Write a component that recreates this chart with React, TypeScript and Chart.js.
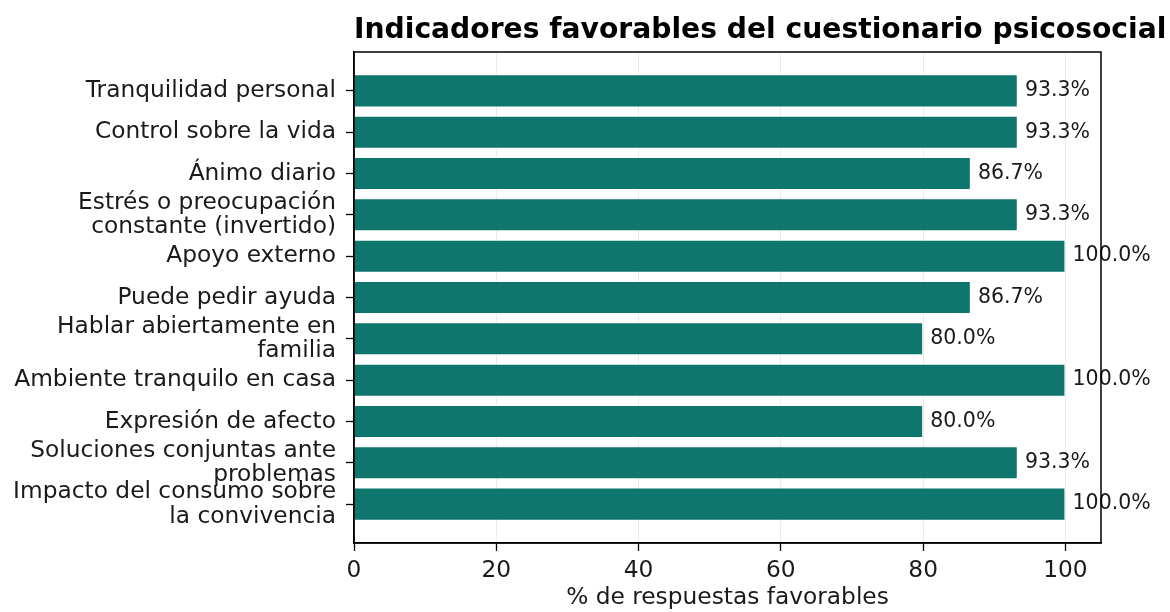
import React, { useEffect, useRef } from "react";
import { Chart, registerables } from "chart.js";

Chart.register(...registerables);

const TITLE = "Indicadores favorables del cuestionario psicosocial";
const X_LABEL = "% de respuestas favorables";
const CATEGORIES = [
  "Tranquilidad personal",
  "Control sobre la vida",
  "Ánimo diario",
  "Estrés o preocupación\nconstante (invertido)",
  "Apoyo externo",
  "Puede pedir ayuda",
  "Hablar abiertamente en\nfamilia",
  "Ambiente tranquilo en casa",
  "Expresión de afecto",
  "Soluciones conjuntas ante\nproblemas",
  "Impacto del consumo sobre\nla convivencia",
];
const VALUES = [93.3, 93.3, 86.7, 93.3, 100.0, 86.7, 80.0, 100.0, 80.0, 93.3, 100.0];
const X_TICKS = [0, 20, 40, 60, 80, 100];

const FONT = "'DejaVu Sans', 'Liberation Sans', sans-serif";
const BAR_COLOR = "#0f766e";
const TEXT_COLOR = "#1a1a1a";

export default function App() {
  const ref = useRef<HTMLCanvasElement>(null);

  useEffect(() => {
    document.body.style.margin = "0";
    const canvas = ref.current;
    if (!canvas) return;

    const overlay = {
      id: "overlay",
      afterDatasetsDraw(chart: any) {
        const ctx = chart.ctx;
        const xs = chart.scales.x;
        const meta = chart.getDatasetMeta(0);
        ctx.save();
        ctx.font = `20.5px ${FONT}`;
        ctx.fillStyle = TEXT_COLOR;
        ctx.textAlign = "left";
        ctx.textBaseline = "middle";
        meta.data.forEach((bar: any, i: number) => {
          const v = VALUES[i];
          ctx.fillText(`${v.toFixed(1)}%`, xs.getPixelForValue(v + 1), bar.y);
        });
        ctx.restore();
      },
      afterDraw(chart: any) {
        const ctx = chart.ctx;
        const a = chart.chartArea;
        ctx.save();
        ctx.strokeStyle = "#000";
        ctx.lineWidth = 1.5;
        ctx.strokeRect(a.left, a.top, a.right - a.left, a.bottom - a.top);
        ctx.font = `bold 28.2px ${FONT}`;
        ctx.fillStyle = "#000";
        ctx.textAlign = "left";
        ctx.textBaseline = "alphabetic";
        ctx.fillText(TITLE, a.left, 38);
        ctx.restore();
      },
    };

    const chart = new Chart(canvas, {
      type: "bar",
      data: {
        datasets: [
          {
            data: VALUES.map((v, i) => ({ x: v, y: i })),
            backgroundColor: BAR_COLOR,
            borderColor: "rgba(255,255,255,0.55)",
            borderWidth: 1,
            barPercentage: 0.8,
            categoryPercentage: 1,
          },
        ],
      },
      options: {
        indexAxis: "y",
        animation: false,
        responsive: false,
        layout: { padding: { top: 52, right: 69, left: 0, bottom: 0 } },
        plugins: {
          legend: { display: false },
          tooltip: { enabled: false },
        },
        scales: {
          x: {
            type: "linear",
            min: 0,
            max: 105,
            afterBuildTicks: (s: any) => {
              s.ticks = X_TICKS.map((v) => ({ value: v }));
            },
            afterFit: (s: any) => {
              s.height = 69;
            },
            grid: {
              color: "#ebebeb",
              lineWidth: 1,
              drawTicks: true,
              tickLength: 8,
              tickColor: "#000",
              tickWidth: 1.3,
            },
            border: { display: true, color: "#000", width: 1.5 },
            ticks: {
              color: TEXT_COLOR,
              font: { family: FONT, size: 23.3 },
              padding: 6,
              maxRotation: 0,
            },
            title: {
              display: true,
              text: X_LABEL,
              color: TEXT_COLOR,
              font: { family: FONT, size: 23.3 },
              padding: { top: 0, bottom: 0 },
            },
          },
          y: {
            type: "linear",
            reverse: true,
            offset: false,
            min: -0.94,
            max: 10.94,
            afterBuildTicks: (s: any) => {
              s.ticks = CATEGORIES.map((_, i) => ({ value: i }));
            },
            afterFit: (s: any) => {
              s.width = 354;
            },
            grid: {
              offset: false,
              drawOnChartArea: false,
              drawTicks: true,
              tickLength: 8,
              tickColor: "#000",
              tickWidth: 1.3,
            },
            border: { display: true, color: "#000", width: 1.5 },
            ticks: {
              color: TEXT_COLOR,
              font: { family: FONT, size: 23.3, lineHeight: 1.06 },
              padding: 10,
              autoSkip: false,
              callback: (value: any) => {
                const label = CATEGORIES[Math.round(Number(value))];
                return label ? label.split("\n") : "";
              },
            },
          },
        },
      },
      plugins: [overlay],
    } as any);

    return () => chart.destroy();
  }, []);

  return (
    <div style={{ width: 1170, height: 612 }}>
      <canvas ref={ref} width={1170} height={612} />
    </div>
  );
}
